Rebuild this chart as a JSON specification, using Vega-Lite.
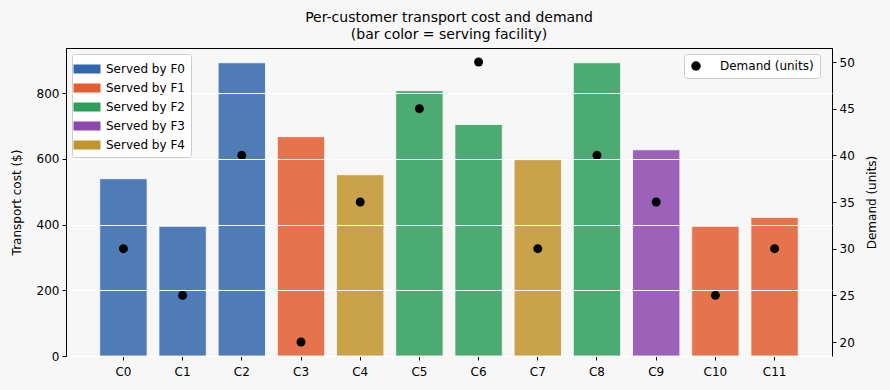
{
  "$schema": "https://vega.github.io/schema/vega-lite/v6.json",
  "autosize": {"type": "none"},
  "width": 766,
  "height": 308,
  "padding": {"left": 66, "top": 48, "right": 58, "bottom": 34},
  "background": "#f7f7f7",
  "config": {
    "font": "DejaVu Sans",
    "view": {"stroke": "#000000", "strokeWidth": 1, "fill": "#f7f7f7"},
    "axis": {
      "labelFont": "DejaVu Sans",
      "titleFont": "DejaVu Sans",
      "labelFontSize": 12,
      "titleFontSize": 12,
      "labelColor": "#000000",
      "titleColor": "#000000",
      "titleFontWeight": "normal",
      "domainColor": "#000000",
      "tickColor": "#000000",
      "tickSize": 4,
      "labelPadding": 3
    },
    "legend": {"labelFont": "DejaVu Sans", "labelColor": "#000000"}
  },
  "title": {
    "text": ["Per-customer transport cost and demand", "(bar color = serving facility)"],
    "fontSize": 14,
    "fontWeight": "normal",
    "font": "DejaVu Sans",
    "color": "#000000",
    "anchor": "middle",
    "offset": 6,
    "lineHeight": 17
  },
  "data": {
    "values": [
      {"customer": "C0", "facility": "Served by F0", "cost": 540, "demand": 30},
      {"customer": "C1", "facility": "Served by F0", "cost": 395, "demand": 25},
      {"customer": "C2", "facility": "Served by F0", "cost": 893, "demand": 40},
      {"customer": "C3", "facility": "Served by F1", "cost": 668, "demand": 20},
      {"customer": "C4", "facility": "Served by F4", "cost": 552, "demand": 35},
      {"customer": "C5", "facility": "Served by F2", "cost": 808, "demand": 45},
      {"customer": "C6", "facility": "Served by F2", "cost": 705, "demand": 50},
      {"customer": "C7", "facility": "Served by F4", "cost": 598, "demand": 30},
      {"customer": "C8", "facility": "Served by F2", "cost": 893, "demand": 40},
      {"customer": "C9", "facility": "Served by F3", "cost": 628, "demand": 35},
      {"customer": "C10", "facility": "Served by F1", "cost": 395, "demand": 25},
      {"customer": "C11", "facility": "Served by F1", "cost": 422, "demand": 30}
    ]
  },
  "encoding": {
    "x": {
      "field": "customer",
      "type": "nominal",
      "sort": null,
      "scale": {"paddingInner": 0.2, "paddingOuter": 0.57},
      "axis": {"title": null, "labelAngle": 0, "grid": false, "labelPadding": 6}
    }
  },
  "layer": [
    {
      "mark": {"type": "bar", "opacity": 0.85, "stroke": "#ffffff", "strokeWidth": 0.8},
      "encoding": {
        "y": {
          "field": "cost",
          "type": "quantitative",
          "scale": {"domain": [0, 938], "nice": false},
          "axis": {
            "title": "Transport cost ($)",
            "values": [0, 200, 400, 600, 800],
            "grid": true,
            "gridColor": "#ffffff",
            "gridWidth": 1,
            "zindex": 1,
            "titlePadding": 13
          }
        },
        "color": {
          "field": "facility",
          "type": "nominal",
          "scale": {
            "domain": ["Served by F0", "Served by F1", "Served by F2", "Served by F3", "Served by F4"],
            "range": ["#3266ad", "#e25d30", "#2f9e5b", "#8d48ae", "#c1942c"]
          },
          "legend": {
            "title": null,
            "orient": "none",
            "legendX": 6,
            "legendY": 6,
            "symbolType": "M-1.5,-0.5H1.5V0.5H-1.5Z",
            "symbolSize": 324,
            "symbolOpacity": 1,
            "symbolStrokeWidth": 0,
            "labelFontSize": 12,
            "labelOffset": 10,
            "rowPadding": 4,
            "padding": 6,
            "fillColor": "rgba(255,255,255,0.8)",
            "strokeColor": "#cccccc",
            "cornerRadius": 3
          }
        }
      }
    },
    {
      "mark": {"type": "point", "filled": true, "size": 80, "opacity": 1},
      "encoding": {
        "y": {
          "field": "demand",
          "type": "quantitative",
          "scale": {"domain": [18.5, 51.5], "nice": false, "zero": false},
          "axis": {
            "title": "Demand (units)",
            "orient": "right",
            "values": [20, 25, 30, 35, 40, 45, 50],
            "grid": false,
            "titleAngle": 270,
            "titleBaseline": "top",
            "titlePadding": 12
          }
        },
        "fill": {
          "datum": "Demand (units)",
          "scale": {"range": ["#000000"]},
          "legend": {
            "title": null,
            "orient": "none",
            "legendX": 618,
            "legendY": 6,
            "symbolType": "circle",
            "symbolSize": 90,
            "symbolOpacity": 1,
            "labelFontSize": 12,
            "labelOffset": 18,
            "padding": 6,
            "fillColor": "rgba(255,255,255,0.8)",
            "strokeColor": "#cccccc",
            "cornerRadius": 3
          }
        }
      }
    }
  ],
  "resolve": {"scale": {"y": "independent"}}
}
